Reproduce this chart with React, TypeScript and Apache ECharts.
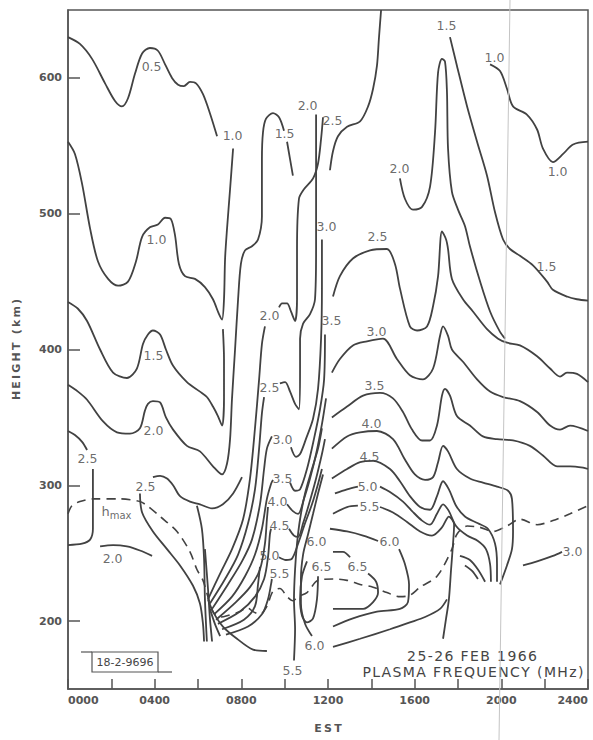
import React, { useEffect, useRef } from "react";
import * as echarts from "echarts";

// ---- axis ticks ----
const heightTicks = [200, 300, 400, 500, 600];

// ---- contour lines: [hour EST, height km] ----
const topCurve = [[0,630],[0.55,625],[1.11,614],[1.71,596],[2.17,583],[2.49,579],[2.77,585],[3.09,603],[3.42,618],[3.78,622],[4.15,620],[4.48,610],[4.8,600],[5.08,595],[5.35,594],[5.63,597],[5.91,596],[6.23,588],[6.55,574],[6.88,557]];
const c10Left = [[0,553],[0.32,544],[0.65,522],[1.02,489],[1.38,465],[1.85,452],[2.31,447],[2.77,450],[3.14,465],[3.42,483],[3.78,490],[4.15,492],[4.48,497],[4.75,496],[4.94,484],[5.12,463],[5.4,454],[5.86,452],[6.32,446],[6.69,437],[6.97,426],[7.11,422],[7.2,437],[7.25,467],[7.34,489],[7.48,518],[7.62,548]];
const c15Left = [[0,435],[0.46,430],[0.88,421],[1.48,400],[2.08,383],[2.72,379],[3.18,386],[3.46,404],[3.69,411],[3.92,414],[4.25,411],[4.52,400],[4.85,388],[5.49,376],[6.09,369],[6.41,365],[6.69,358],[6.92,351],[7.11,344],[7.2,364],[7.2,393],[7.15,415]];
const c20Left = [[0,374],[0.46,369],[0.88,363],[1.62,347],[2.26,339],[2.86,338],[3.32,342],[3.55,355],[3.69,360],[3.92,362],[4.25,361],[4.52,350],[4.85,341],[5.49,329],[6.09,325],[6.69,314],[7.11,308],[7.34,316],[7.48,334],[7.57,364],[7.71,400],[7.85,437],[7.98,463],[8.17,473],[8.49,476],[8.77,481],[8.95,498],[8.95,540],[9.0,560],[9.14,570],[9.46,574],[9.74,571],[9.97,561]];
const c15Tail = [[10.11,553],[10.25,540],[10.38,528]];
const c25Wavy = [[3.92,306],[4.25,307],[4.57,305],[4.85,300],[5.17,292],[5.63,288],[6.09,286],[6.65,283],[7.15,286],[7.62,294],[8.03,306]];
const c25Down = [[3.32,294],[3.42,280],[3.92,266],[4.57,253],[5.17,241],[5.77,226],[6.09,213],[6.23,198],[6.28,185]];
const c25Arc = [[0,340],[0.32,337],[0.65,332],[0.88,326]];
const c25Close = [[1.15,312],[1.15,290],[1.15,268],[1.02,260],[0.65,257],[0,256]];
const c20Low = [[1.48,255],[2.08,256],[2.72,255],[3.32,252],[3.88,248]];

const bundleA = [[5.95,285],[6.18,268],[6.28,246],[6.32,216],[6.41,185]];
const bundleB = [[6.32,253],[6.46,224],[6.55,202],[6.65,185]];
const bundleC = [[6.46,216],[6.69,207],[7.15,196],[7.8,187],[8.54,179],[9.18,178]];
const bundleD = [[6.55,209],[6.78,198],[7.02,189]];

const fan20 = [[6.46,216],[7.02,235],[7.57,253],[8.08,275],[8.4,305],[8.63,342],[8.82,378],[8.95,404],[9.09,417]];
const fan25 = [[6.55,213],[7.25,231],[7.85,249],[8.31,272],[8.63,297],[8.82,327],[8.95,353],[9.05,365]];
const fan30 = [[6.65,209],[7.38,227],[8.03,244],[8.49,260],[8.86,286],[9.05,312],[9.18,327],[9.41,336]];
const fan35 = [[6.74,205],[7.57,218],[8.17,233],[8.63,249],[8.95,268],[9.18,290],[9.37,301],[9.46,304]];
const fan40 = [[6.83,201],[7.75,214],[8.4,225],[8.86,238],[9.09,257],[9.18,275],[9.23,284]];
const fan45 = [[6.92,198],[7.94,207],[8.63,218],[9.05,231],[9.23,247],[9.32,264],[9.37,268]];
const fan50 = [[7.11,194],[8.12,201],[8.63,211],[8.77,227],[8.86,240]];
const fan55 = [[7.29,190],[8.31,196],[8.95,205],[9.23,216],[9.37,227],[9.41,231]];

const r20 = [[9.74,431],[9.88,434],[10.11,434],[10.29,428],[10.48,421],[10.57,437],[10.57,474],[10.66,511],[10.89,518],[11.31,526],[11.54,537],[11.68,555],[11.77,571]];
const r25 = [[9.78,375],[10.02,376],[10.25,369],[10.48,360],[10.66,356],[10.71,386],[10.71,408],[10.85,419],[11.17,426],[11.4,437],[11.45,474],[11.45,511],[11.45,548],[11.45,573]];
const r30 = [[10.29,328],[10.52,321],[10.71,323],[10.98,334],[11.31,349],[11.54,371],[11.68,408],[11.72,445],[11.72,481]];
const r35 = [[10.25,302],[10.48,296],[10.71,297],[11.03,312],[11.35,334],[11.63,356],[11.82,378],[11.86,411]];
const r40 = [[10.11,286],[10.38,281],[10.62,279],[10.89,290],[11.17,305],[11.45,323],[11.72,345],[11.91,364]];
const r45 = [[10.2,268],[10.43,263],[10.62,262],[10.85,272],[11.12,286],[11.45,305],[11.72,323],[11.86,334]];
const r50 = [[9.74,247],[10.06,245],[10.34,246],[10.62,257],[10.94,272],[11.26,286],[11.54,301],[11.72,312]];
const low55 = [[10.43,171],[10.48,194],[10.43,216],[10.48,238],[10.57,257],[10.71,275],[10.94,294],[11.26,312],[11.54,327],[11.72,342]];
const low60 = [[11.26,189],[10.94,198],[10.75,213],[10.75,231],[10.85,249],[11.08,264],[11.31,279],[11.54,294],[11.77,308]];
const loop65 = [[11.54,233],[11.49,216],[11.31,202],[11.03,199],[10.8,204],[10.71,216],[10.8,233],[11.03,244]];

const riseTop = [[14.45,650],[14.35,629],[14.26,609],[14.08,592],[13.85,579],[13.48,568],[12.88,564],[12.46,557],[12.23,546],[12.09,532]];
const c15Right = [[17.63,630],[17.95,609],[18.42,579],[18.88,553],[19.34,528],[19.71,501],[20.08,481],[20.4,474],[20.86,469],[21.46,462],[22.11,450],[22.38,444],[23.03,439],[23.49,437],[24,436]];
const c10Right = [[19.48,610],[19.94,605],[20.26,592],[20.54,579],[21.18,573],[21.65,562],[21.92,548],[22.38,538],[22.85,544],[23.31,551],[24,553]];
const c20Peak = [[15.32,526],[15.55,511],[15.92,503],[16.34,505],[16.71,520],[16.94,560],[17.08,604],[17.26,614],[17.4,612],[17.49,590],[17.54,548],[17.72,516],[18.0,503],[18.32,491],[18.55,476],[19.02,450],[19.48,428],[19.94,413],[20.17,408]];
const c25Right = [[12.23,439],[12.55,454],[13.15,467],[13.94,473],[14.72,474],[15.09,463],[15.32,445],[15.78,417],[16.11,414],[16.57,417],[16.85,432],[17.08,454],[17.26,487],[17.45,481],[17.54,474],[17.72,452],[18.23,437],[18.69,428],[19.34,415],[19.85,408],[20.26,405],[20.86,403],[21.65,395],[22.25,386],[22.71,380],[23.03,383],[23.49,382],[24,376]];
const c30Right = [[12.18,383],[12.55,393],[13.15,403],[13.8,406],[14.54,408],[15.18,393],[15.78,381],[16.38,378],[16.85,386],[17.17,410],[17.31,417],[17.54,410],[17.72,400],[18.23,391],[18.88,378],[19.48,369],[20.08,365],[20.86,362],[21.65,354],[22.25,344],[22.71,341],[23.17,344],[24,340]];
const c35Right = [[12.18,350],[12.88,358],[13.62,366],[14.4,368],[15.0,364],[15.46,354],[15.88,341],[16.34,333],[16.71,333],[17.03,344],[17.26,366],[17.4,371],[17.63,366],[17.95,351],[18.55,344],[19.15,336],[19.8,334],[20.54,333],[21.32,329],[21.92,322],[22.57,314],[23.17,314],[23.77,313],[24,312]];
const c40Right = [[12.18,327],[12.88,336],[13.48,339],[14.26,340],[15.0,334],[15.55,319],[16.01,308],[16.48,304],[16.85,306],[17.08,317],[17.31,329],[17.54,325],[17.95,312],[18.55,305],[19.15,302],[19.8,299],[20.31,296],[20.49,290],[20.54,266],[20.49,253],[20.26,241],[19.94,227]];
const c45Right = [[12.18,305],[12.88,312],[13.48,317],[14.08,318],[14.86,312],[15.32,303],[15.78,292],[16.25,284],[16.71,282],[17.03,292],[17.31,303],[17.58,297],[17.91,285],[18.32,277],[18.92,272],[19.38,268],[19.71,257],[19.8,242],[19.8,229]];
const c50RightA = [[12.32,294],[12.88,297],[13.38,299]];
const c50RightB = [[14.4,299],[14.86,295],[15.46,288],[15.88,281],[16.34,274],[16.71,271],[17.03,279],[17.31,286],[17.58,281],[17.91,270],[18.42,263],[18.92,259],[19.29,253],[19.48,242],[19.52,229]];
const c55RightA = [[12.23,279],[12.88,284],[13.38,285]];
const c55RightB = [[14.4,284],[15.0,280],[15.65,273],[16.25,266],[16.8,263],[17.26,269],[17.58,277],[17.82,271],[17.77,257],[17.68,238],[17.58,216],[17.45,202],[17.31,187]];
const c60RightA = [[12.09,268],[12.88,266],[13.62,263],[14.31,259]];
const c60RightB = [[15.28,253],[15.55,242],[15.74,227],[15.69,214],[15.32,209],[14.26,207],[13.15,202],[12.23,196]];
const c65RightA = [[12.23,251],[12.69,251],[13.02,247]];
const c65RightB = [[13.85,235],[14.22,229],[14.31,221],[14.08,214],[13.62,209],[12.88,209],[12.23,209]];
const lowRight = [[12.23,181],[13.48,187],[14.86,194],[15.78,199],[16.48,203],[17.17,209],[17.49,216]];
const arc1 = [[18.09,248],[18.55,245],[18.92,238],[19.25,229]];
const arc2 = [[18.32,241],[18.65,237],[18.92,231]];
const c30Corner = [[21.0,241],[21.65,244],[22.38,248],[22.8,251]];

// ---- h max (dashed) ----
const hmax = [[0,279],[0.18,285],[0.55,288],[1.15,290],[2.4,290],[3.32,288],[3.65,285],[4.25,277],[5.03,266],[5.63,251],[5.95,238],[6.23,230],[6.42,220],[6.69,207],[7.02,203],[7.34,204],[7.94,207],[8.26,210],[8.54,207],[8.86,205],[9.18,211],[9.46,222],[9.78,224],[10.11,218],[10.38,215],[10.62,218],[11.03,221],[11.54,230],[12.23,231],[12.88,230],[13.48,227],[14.08,225],[14.72,221],[15.32,218],[15.78,219],[16.25,225],[17.03,233],[17.72,253],[17.95,264],[18.42,270],[19.02,269],[19.62,266],[20.26,270],[20.86,275],[21.65,271],[22.38,274],[23.17,279],[24,285]];

// ---- contour labels: [hour, km, text] ----
const contourLabels: [number, number, string][] = [
  [3.88,608,"0.5"],[4.11,481,"1.0"],[3.97,395,"1.5"],[3.97,340,"2.0"],[0.92,319,"2.5"],[3.6,299,"2.5"],[2.08,246,"2.0"],
  [7.62,557,"1.0"],[10.02,559,"1.5"],[11.08,579,"2.0"],[12.23,568,"2.5"],[11.95,490,"3.0"],[12.18,421,"3.5"],
  [9.32,425,"2.0"],[9.32,372,"2.5"],[9.92,333,"3.0"],[9.92,305,"3.5"],[9.69,288,"4.0"],[9.78,270,"4.5"],[9.32,248,"5.0"],[9.78,235,"5.5"],
  [11.49,258,"6.0"],[11.72,240,"6.5"],[11.4,182,"6.0"],[10.38,163,"5.5"],
  [15.32,533,"2.0"],[14.31,483,"2.5"],[17.49,638,"1.5"],[19.71,615,"1.0"],[22.62,531,"1.0"],[22.11,461,"1.5"],
  [14.26,413,"3.0"],[14.17,373,"3.5"],[14.03,345,"4.0"],[13.94,321,"4.5"],[13.85,299,"5.0"],[13.94,284,"5.5"],
  [14.86,258,"6.0"],[13.38,240,"6.5"],[23.31,251,"3.0"]
];
const hmaxLabel = [2.26, 280];

const solidLines = [
  topCurve, c10Left, c15Left, c20Left, c15Tail, c25Wavy, c25Down, c25Arc, c25Close, c20Low,
  bundleA, bundleB, bundleC, bundleD,
  fan20, fan25, fan30, fan35, fan40, fan45, fan50, fan55,
  r20, r25, r30, r35, r40, r45, r50, low55, low60, loop65,
  riseTop, c15Right, c10Right, c20Peak, c25Right, c30Right, c35Right, c40Right, c45Right,
  c50RightA, c50RightB, c55RightA, c55RightB, c60RightA, c60RightB, c65RightA, c65RightB,
  lowRight, arc1, arc2, c30Corner
];

const INK = "#424242";
const AXIS = "#555";
const TEXT = "#454545";
const FONT = "DejaVu Sans";

const spaced = (s: string, gap: string) => s.split("").join(gap);

export default function App() {
  const ref = useRef<HTMLDivElement>(null);
  useEffect(() => {
    const chart = echarts.init(ref.current as HTMLDivElement, null, { renderer: "svg" });
    const series: any[] = solidLines.map((d) => ({
      type: "line",
      data: d,
      showSymbol: false,
      symbol: "none",
      smooth: 0.3,
      silent: true,
      lineStyle: { color: INK, width: 1.8 },
      itemStyle: { color: INK },
      z: 3,
    }));
    series.push({
      type: "line",
      data: hmax,
      showSymbol: false,
      symbol: "none",
      smooth: 0.3,
      silent: true,
      lineStyle: { color: INK, width: 1.6, type: [9, 6] },
      itemStyle: { color: INK },
      z: 3,
    });
    series.push({
      type: "scatter",
      symbolSize: 1,
      silent: true,
      itemStyle: { color: "rgba(255,255,255,0)" },
      z: 5,
      data: contourLabels.map((l) => ({ value: [l[0], l[1]], name: l[2] })),
      label: {
        show: true,
        position: [0, 0],
        align: "center",
        verticalAlign: "middle",
        formatter: "{b}",
        color: TEXT,
        textBorderWidth: 0,
        textShadowBlur: 0,
        fontSize: 12.5,
        fontFamily: FONT,
      },
    });
    series.push({
      type: "scatter",
      symbolSize: 1,
      silent: true,
      itemStyle: { color: "rgba(255,255,255,0)" },
      z: 5,
      data: [{ value: hmaxLabel, name: "hmax" }],
      label: {
        show: true,
        position: [0, 0],
        align: "center",
        verticalAlign: "middle",
        formatter: "{h|h}{m|max}",
        color: TEXT,
        textBorderWidth: 0,
        fontFamily: FONT,
        rich: {
          h: { fontSize: 13, fontFamily: FONT, color: TEXT },
          m: { fontSize: 10, fontFamily: FONT, color: TEXT, padding: [7, 0, 0, 0] },
        },
      },
    });

    chart.setOption({
      animation: false,
      backgroundColor: "#fff",
      grid: { left: 68, right: 5, top: 10, bottom: 51, show: true, borderColor: AXIS, borderWidth: 1.5 },
      xAxis: {
        type: "value",
        min: 0,
        max: 24,
        interval: 2,
        name: spaced("EST", "\u2009"),
        nameLocation: "middle",
        nameGap: 34,
        nameTextStyle: { color: AXIS, fontSize: 11, fontWeight: "bold", fontFamily: FONT },
        axisLine: { lineStyle: { color: AXIS, width: 1.5 } },
        axisTick: { inside: true, length: 10, lineStyle: { color: AXIS, width: 1.5 } },
        axisLabel: {
          color: AXIS,
          fontSize: 11,
          fontWeight: "bold",
          fontFamily: FONT,
          margin: 6,
          showMinLabel: true,
          showMaxLabel: true,
          alignMinLabel: "left",
          alignMaxLabel: "right",
          formatter: (v: number) => (v % 4 === 0 ? String(v * 100).padStart(4, "0") : ""),
        },
        splitLine: { show: false },
      },
      yAxis: {
        type: "value",
        min: 150,
        max: 650,
        interval: 50,
        name: spaced("HEIGHT (km)", "\u2009"),
        nameLocation: "middle",
        nameGap: 46,
        nameRotate: 90,
        nameTextStyle: { color: AXIS, fontSize: 11, fontWeight: "bold", fontFamily: FONT },
        axisLine: { show: true, lineStyle: { color: AXIS, width: 1.5 } },
        axisTick: { show: true, inside: true, length: 12, customValues: heightTicks, lineStyle: { color: AXIS, width: 1.5 } },
        axisLabel: {
          color: AXIS,
          fontSize: 11,
          fontWeight: "bold",
          fontFamily: FONT,
          margin: 6,
          customValues: heightTicks,
          formatter: (v: number) => (v % 100 === 0 && v >= 200 && v <= 600 ? String(v) : ""),
        },
        splitLine: { show: false },
      },
      graphic: [
        { type: "text", x: 472, y: 656, z: 10, style: { text: spaced("25-26 FEB 1966", "\u200A"), font: `14px "${FONT}"`, fill: TEXT, textAlign: "center", textVerticalAlign: "middle" } },
        { type: "text", x: 473, y: 672, z: 10, style: { text: spaced("PLASMA FREQUENCY (MHz)", "\u200A"), font: `14px "${FONT}"`, fill: TEXT, textAlign: "center", textVerticalAlign: "middle" } },
        { type: "rect", z: 10, shape: { x: 92, y: 652, width: 66, height: 20 }, style: { fill: "none", stroke: AXIS, lineWidth: 1.2 } },
        { type: "line", z: 10, shape: { x1: 81, y1: 652, x2: 92, y2: 652 }, style: { stroke: AXIS, lineWidth: 1.2 } },
        { type: "line", z: 10, shape: { x1: 158, y1: 672, x2: 172, y2: 672 }, style: { stroke: AXIS, lineWidth: 1.2 } },
        { type: "text", x: 125, y: 662, z: 10, style: { text: "18-2-9696", font: `11px "${FONT}"`, fill: TEXT, textAlign: "center", textVerticalAlign: "middle" } },
        { type: "line", z: 20, shape: { x1: 510, y1: 0, x2: 499, y2: 740 }, style: { stroke: "#c4c4c4", lineWidth: 1 } },
      ],
      series,
    });
    return () => chart.dispose();
  }, []);
  return (
    <div
      ref={ref}
      style={{ position: "absolute", left: 0, top: 0, width: 593, height: 740, background: "#fff" }}
    />
  );
}
